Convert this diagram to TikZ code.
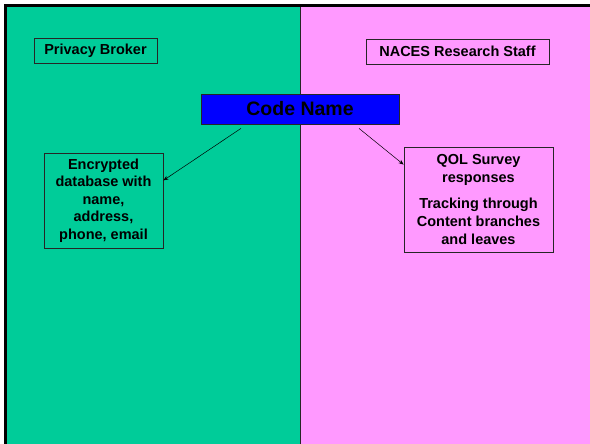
\documentclass[tikz,border=0pt]{standalone}
\usepackage{fontspec}
\setmainfont{Liberation Sans}
\usetikzlibrary{arrows.meta, positioning, calc}
\definecolor{brokergreen}{RGB}{0,204,153}
\definecolor{staffpink}{RGB}{255,153,255}
\definecolor{codeblue}{RGB}{0,0,255}
\tikzset{
    title/.style = {draw=black!85, line width=0.8pt, align=center, inner sep=0pt,
        font=\fontsize{14.5}{17.5}\selectfont\bfseries, minimum height=25pt},
    block/.style = {draw=black!85, line width=0.8pt, align=center, inner sep=0pt,
        font=\fontsize{14.5}{17.6}\selectfont\bfseries},
    codebox/.style = {draw=black!85, line width=0.8pt, fill=codeblue, inner sep=0pt,
        font=\fontsize{19.5}{22}\selectfont\bfseries, minimum width=198pt, minimum height=30pt}
}
\begin{document}
\begin{tikzpicture}[x=1pt, y=-1pt, >={Stealth[length=5pt, width=4pt]}]
    \useasboundingbox (0,0) rectangle (590,444);
    % Fondo
    \fill [brokergreen] (5,5) rectangle (300,444);
    \fill [staffpink] (300,5) rectangle (590,444);
    \draw [line width=0.8pt, black!85] (300,5) -- (300,444);
    \draw [line width=2.5pt] (5.5,444) -- (5.5,5.5) -- (590,5.5);
    % Nodos
    \node [title, fill=brokergreen, minimum width=123pt] (broker) at (95.5,50.5) {Privacy Broker};
    \node [title, fill=staffpink, minimum width=183pt] (staff) at (457.5,51.5) {NACES Research Staff};
    \node [codebox] (code) at (300,109) {Code Name};
    \node [block, fill=brokergreen, minimum width=119pt, minimum height=95pt] (db) at (103.5,200.5)
        {Encrypted\\database with\\name,\\address,\\phone, email};
    \node [block, fill=staffpink, minimum width=149pt, minimum height=105pt] (qol) at (478.5,199.5)
        {QOL Survey\\responses\\[9pt]Tracking through\\Content branches\\and leaves};
    \coordinate (codeL) at ($(code.south)+(-59,4)$);
    \coordinate (codeR) at ($(code.south)+(59,4)$);
    % Flechas
    \draw [->, line width=0.5pt] (codeL) -- ($(db.north east)!0.29!(db.south east)$);
    \draw [->, line width=0.5pt] (codeR) -- ($(qol.north west)!0.17!(qol.south west)$);
\end{tikzpicture}
\end{document}
